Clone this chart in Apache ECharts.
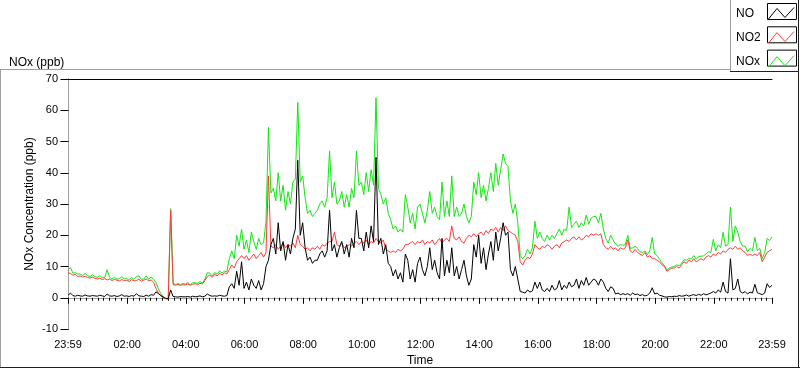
<!DOCTYPE html>
<html><head><meta charset="utf-8">
<script src="https://cdn.jsdelivr.net/npm/echarts@6/dist/echarts.min.js"></script>
<style>html,body{margin:0;padding:0;background:#fff}#c{width:800px;height:369px}</style>
</head><body><div id="c"></div>
<script>
// time grid: minutes since 00:00, first sample at 23:59 of the previous day (-1), every 5 minutes
const startMinute = -1;
const stepMinutes = 5;
const xLabelMinutes = [-1, 120, 240, 360, 480, 600, 720, 840, 960, 1080, 1200, 1320, 1439];
const yTicks = [-10, 0, 10, 20, 30, 40, 50, 60, 70];
const seriesNames = ['NO', 'NO2', 'NOx'];

const no = [
0.8,1.5,0.7,0.5,0.8,0.6,0.5,0.9,0.6,0.5,0.7,0.6,
0.5,0.8,0.6,0.4,1.2,0.6,0.5,0.7,0.4,0.6,1.0,0.5,
0.6,0.4,0.7,0.5,1.3,0.6,0.5,0.4,0.8,0.5,1.0,0.8,
1.9,1.3,0.7,0.2,-0.2,-0.3,2.5,0.4,0.3,0.2,0.4,0.3,
0.3,0.4,0.2,0.5,0.3,0.4,0.6,0.3,0.5,1.2,0.7,0.5,
0.6,0.5,0.8,0.6,0.5,0.7,3.5,4.5,3.0,8.5,4.0,11.5,
3,5,2.5,6,4,3,5.5,2.5,4.5,10,12,17,
19,14,24,15,18,12,17,14,19,22,44,20,
24,16,12,13,11,12,12,14,15,13,15,28,
15,17,13,16,18,14,17,13,19,16,28,19,
19,15,21,16,23,18,45,17,19,14,17,11,
10,7,9,6,8,5,14,12,6,9,5,11,
13,9,7,10,16,9,12,8,6,19,7,12,
8,16,7,10,6,9,12,7,4,6,17,13,
20,11,16,9,14,18,12,21,15,19,24,20,
21,9,7,10,6,2,1.8,1.5,2.5,1.8,2.2,5,
3,5,2.5,2,3,2,4,2.5,3,5.5,2.5,4,
3,5,3.5,4,6,3,5.5,4,6.5,4,5,6,
5.5,4,6,5,3,2,3.5,3,1.2,1.5,1,1.3,
1,1.3,0.8,1.5,1,1.2,0.7,1,0.6,0.8,1.5,3.2,
1.2,1.5,0.8,0.6,0.3,0.2,0.4,0.3,0.5,0.4,0.7,0.5,
0.6,0.9,0.5,0.8,1.0,0.7,1.1,0.8,1.3,0.9,1.2,1.5,
2,1.5,2.5,1.8,5,2,1.5,12.5,2.5,3,6,2,
1.5,2,1.2,1.8,1.5,4.3,1.6,1.3,1.0,1.5,4.5,3.3,
4];

const no2 = [
8.0,7.8,7.2,7.5,6.8,7.0,6.6,6.9,6.5,6.3,6.6,6.2,
6.0,6.3,5.8,6.1,5.7,6.0,5.5,5.9,5.6,5.4,5.8,5.5,
5.6,5.2,5.8,5.4,5.5,5.9,5.3,5.6,6.0,5.4,5.7,5.0,
3.0,1.5,0.6,0.1,-0.3,-0.3,28,4.2,4.0,4.3,3.9,4.2,
4.1,4.4,4.0,4.3,4.5,4.2,4.6,4.4,5.5,6.8,7.2,6.5,
7.5,7.0,7.8,7.3,8.0,7.6,9.0,10.5,9.5,11.5,12.5,13.5,
12.5,13.5,12.0,13.0,14.0,12.5,13.5,14.5,13.0,14.5,39,16.5,
16.0,17.0,15.5,16.5,17.5,16.0,17.0,16.5,17.5,16.0,20.0,17.0,
16.5,15.5,16.0,15.0,16.0,15.5,16.5,15.5,17.0,16.5,17.5,18.0,
18.0,21.0,17.0,16.5,17.5,16.0,16.5,17.0,16.5,17.5,18.0,17.0,
18.0,17.5,18.5,17.0,18.0,17.5,19.0,18.0,17.5,18.5,15.5,15.0,
14.5,15.0,14.5,15.5,15.0,15.5,17.0,17.0,17.5,18.0,17.0,18.0,
17.5,18.5,17.0,18.0,17.5,18.5,17.0,18.0,19.0,17.5,18.5,19.0,
18.0,23.0,19.0,18.5,19.5,18.0,17.5,19.0,20.0,19.5,20.5,19.5,
20.5,21.0,20.0,21.5,20.5,22.0,21.5,22.5,21.0,22.5,21.5,23.0,
21.5,21.0,20.5,20.0,18.0,11.5,10.5,12.0,13.0,12.5,14.0,17.0,
16.0,15.5,16.5,16.0,17.0,16.5,15.5,16.5,17.0,16.0,17.5,18.0,
18.5,18.0,19.0,19.5,18.5,19.5,18.5,19.0,20.0,19.5,20.5,20.0,
20.5,20.0,20.5,17.0,16.0,15.5,16.5,15.5,16.0,15.0,16.0,15.5,
16.0,18.5,15.0,14.5,15.5,14.5,14.0,13.5,14.5,13.0,13.5,12.5,
12.5,12.0,11.5,10.5,10.0,8.5,9.0,9.5,9.5,10.0,9.5,10.5,
11.5,11.0,12.0,11.5,12.5,11.5,12.0,12.5,12.0,13.0,13.5,13.0,
14.0,13.5,14.5,14.0,15.0,14.5,15.5,16.0,15.5,16.5,15.5,16.0,
15.0,14.5,13.5,14.0,13.5,14.0,13.5,14.5,11.5,13.0,14.5,15.0,
15.5];

const nox = [
8.8,9.7,7.9,8.0,7.6,7.6,7.1,7.8,7.1,6.8,7.3,6.8,
6.5,7.1,6.4,6.5,9.0,6.6,6.0,6.6,6.0,6.0,6.8,6.0,
6.2,5.6,6.5,5.9,6.8,7.0,5.8,6.0,7.0,5.9,6.7,5.8,
4.9,2.8,1.3,0.3,-0.3,-0.4,28.5,4.6,4.3,4.5,4.3,4.5,
4.4,4.8,4.2,4.8,4.8,4.6,5.2,4.7,6.0,8.0,7.9,7.0,
8.1,7.5,8.6,7.9,8.5,8.3,12.5,15.0,12.5,20.0,16.5,22.0,
15.5,18.5,14.5,21.0,18.0,15.5,19.0,17.0,17.5,24.5,54.5,33.5,
35,31,40,31,36,28,34,30,37,38,62.5,37,
39,32,27,28,26,27,28,30,31,29,32,47,
32,37,30,31,34,29,33,29,35,32,47,36,
37,33,40,34,41,36,64,35,33,30,32,27,
25,22,23,21,22,21,33,29,24,27,22,29,
30,27,24,28,34,27,29,26,25,37,26,31,
26,39,26,29,26,27,30,26,24,26,37,33,
40,32,36,31,35,40,34,43,36,41,46,43,
42,31,27,30,24,13.5,12.5,13.5,15.5,14,16,24.5,
19,21,19,18,20,18.5,20,19,20.5,22,20,22,
21.5,29,22.5,23.5,24.5,22.5,24,23,26.5,23.5,25.5,26,
26,24,27,22,19,17.5,20,18.5,17.2,16.5,17,16.8,
17,20,15.8,16,16.5,15.7,14.7,14.5,15,13.8,15,19.3,
14,13.5,12.3,11.2,10.3,8.8,9.5,9.8,10,10.5,10.3,11,
12.2,12,12.5,12.4,13.5,12.3,13.2,13.3,13.4,14,14.7,14.5,
18.7,15,17,16,21,16.5,17,29,18,23,21,18,
16.5,16.5,14.7,15.8,15,19.3,15.1,15.8,12.5,14.5,19,18.3,
19.5];

const times = no.map((_, i) => startMinute + i * stepMinutes);
const minorTicks = [];
for (let m = 12; m < 1439; m += 12) if (xLabelMinutes.indexOf(m) < 0) minorTicks.push(m);

function fmt(v) {
  let m = v < 0 ? v + 1440 : v;
  const h = Math.floor(m / 60), mm = m % 60;
  return (h < 10 ? '0' : '') + h + ':' + (mm < 10 ? '0' : '') + mm;
}
const pair = arr => arr.map((v, i) => [times[i], v]);

const FONT = 'Liberation Sans';
const colors = { NO: '#000000', NO2: '#ff3b3b', NOx: '#10e810' };
const zig = 'path://M1,13 L9.5,2.5 L17.5,11.5 L26.5,1.5';

const chart = echarts.init(document.getElementById('c'), null, { renderer: 'canvas' });
chart.setOption({
  animation: false,
  backgroundColor: '#fff',
  textStyle: { fontFamily: FONT },
  title: { text: 'NOx (ppb)', left: 4, top: 52, textStyle: { fontFamily: FONT, fontSize: 12, fontWeight: 'normal', color: '#000' } },
  legend: {
    orient: 'vertical', left: 736, top: 5, padding: 0, itemWidth: 25.5, itemHeight: 11.5, itemGap: 7.6,
    align: 'right', selectedMode: false, icon: zig, z: 10, symbolKeepAspect: false,
    formatter: n => '{a|' + n + '}',
    textStyle: { fontFamily: FONT, fontSize: 12, color: '#000', lineHeight: 14,
      rich: { a: { width: 27.5, height: 14, lineHeight: 14, align: 'left', fontFamily: FONT, fontSize: 12, color: '#000' } } },
    data: seriesNames.map(n => ({ name: n, icon: zig, itemStyle: { color: 'none', borderColor: colors[n], borderWidth: 1 } }))
  },
  grid: { left: 68, top: 79, width: 704, height: 250, show: false, outerBoundsMode: 'none', containLabel: false },
  xAxis: [
    { type: 'value', min: -1, max: 1439, position: 'bottom', offset: 2,
      name: 'Time', nameLocation: 'middle', nameGap: 24, nameMoveOverlap: false,
      nameTextStyle: { fontFamily: FONT, fontSize: 12, color: '#000' },
      axisLine: { show: true, lineStyle: { color: '#a0a0a0', width: 1 } },
      axisTick: { show: true, customValues: xLabelMinutes, length: 6, lineStyle: { color: '#000' } },
      axisLabel: { customValues: xLabelMinutes, formatter: fmt, margin: 8, fontFamily: FONT, fontSize: 11, color: '#000' },
      splitLine: { show: false } },
    { type: 'value', min: -1, max: 1439, position: 'bottom', offset: 2,
      axisLine: { show: false },
      axisTick: { show: true, customValues: minorTicks, length: 3, lineStyle: { color: '#000' } },
      axisLabel: { show: false }, splitLine: { show: false } },
    { type: 'value', min: -1, max: 1439, position: 'top',
      axisLine: { show: true, lineStyle: { color: '#000', width: 1 } },
      axisTick: { show: false }, axisLabel: { show: false }, splitLine: { show: false } }
  ],
  yAxis: [
    { type: 'value', min: yTicks[0], max: yTicks[yTicks.length - 1], interval: 10, position: 'left',
      name: 'NOx Concentration (ppb)', nameLocation: 'middle', nameGap: 32, nameRotate: 90, nameMoveOverlap: false,
      nameTextStyle: { fontFamily: FONT, fontSize: 12, color: '#000' },
      axisLine: { show: true, lineStyle: { color: '#000', width: 1 } },
      axisTick: { show: true, length: 8, lineStyle: { color: '#000' } },
      axisLabel: { margin: 10, fontFamily: FONT, fontSize: 11, color: '#000' },
      splitLine: { show: false } },
    { type: 'value', min: yTicks[0], max: yTicks[yTicks.length - 1], interval: 10, position: 'right',
      axisLine: { show: true, lineStyle: { color: '#a0a0a0', width: 1 } },
      axisTick: { show: false }, axisLabel: { show: false }, splitLine: { show: false } }
  ],
  graphic: [
    { type: 'line', shape: { x1: 0, y1: 69.5, x2: 730, y2: 69.5 }, style: { stroke: '#a0a0a0', lineWidth: 1 }, z: 1 },
    { type: 'line', shape: { x1: 0.5, y1: 69.5, x2: 0.5, y2: 367.5 }, style: { stroke: '#a0a0a0', lineWidth: 1 }, z: 1 },
    { type: 'line', shape: { x1: 0, y1: 367.5, x2: 800, y2: 367.5 }, style: { stroke: '#202020', lineWidth: 1 }, z: 1 },
    { type: 'line', shape: { x1: 798.5, y1: 0, x2: 798.5, y2: 368 }, style: { stroke: '#202020', lineWidth: 1 }, z: 1 },
    { type: 'line', shape: { x1: 730.5, y1: 0, x2: 730.5, y2: 72 }, style: { stroke: '#a0a0a0', lineWidth: 1 }, z: 1 },
    { type: 'line', shape: { x1: 730, y1: 71.5, x2: 799, y2: 71.5 }, style: { stroke: '#202020', lineWidth: 1 }, z: 1 },
    { type: 'rect', shape: { x: 767.5, y: 3.5, width: 29, height: 16 }, style: { stroke: '#000', fill: '#fff', lineWidth: 1 }, z: 1 },
    { type: 'rect', shape: { x: 767.5, y: 26.8, width: 29, height: 16 }, style: { stroke: '#000', fill: '#fff', lineWidth: 1 }, z: 1 },
    { type: 'rect', shape: { x: 767.5, y: 50.1, width: 29, height: 16 }, style: { stroke: '#000', fill: '#fff', lineWidth: 1 }, z: 1 }
  ],
  series: [
    { name: 'NOx', type: 'line', xAxisIndex: 0, yAxisIndex: 0, data: pair(nox), showSymbol: false, symbol: 'none',
      lineStyle: { color: colors.NOx, width: 1 }, itemStyle: { color: colors.NOx } },
    { name: 'NO2', type: 'line', xAxisIndex: 0, yAxisIndex: 0, data: pair(no2), showSymbol: false, symbol: 'none',
      lineStyle: { color: colors.NO2, width: 1 }, itemStyle: { color: colors.NO2 } },
    { name: 'NO', type: 'line', xAxisIndex: 0, yAxisIndex: 0, data: pair(no), showSymbol: false, symbol: 'none',
      lineStyle: { color: colors.NO, width: 1 }, itemStyle: { color: colors.NO } }
  ]
});
</script></body></html>
